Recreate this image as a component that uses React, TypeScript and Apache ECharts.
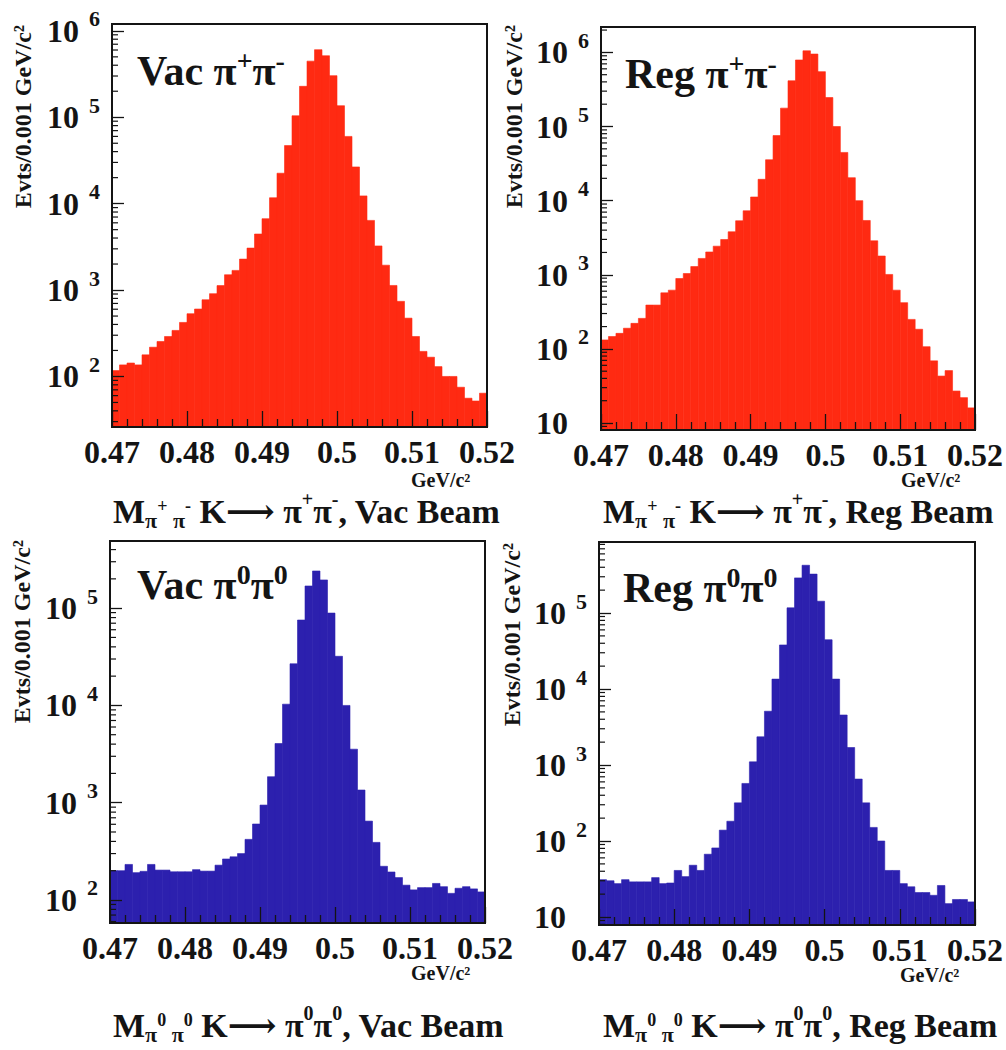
import React, { useEffect, useRef } from "react";
import * as echarts from "echarts";

// ---- data (bin counts per 0.001 GeV/c^2, 0.470 – 0.520) ----
const BIN_START = 0.47;
const BIN_WIDTH = 0.001;

const vacPipiCounts = [
  117, 136, 143, 136, 178, 218, 254, 290, 341, 422,
  532, 603, 772, 908, 1126, 1503, 1688, 2280, 3060, 4450,
  6700, 11700, 22500, 47000, 104000, 228000, 446000, 605000, 515000, 303000,
  136000, 60000, 26600, 12300, 6400, 3240, 1940, 1130, 740, 473,
  290, 195, 167, 130, 100, 100, 75, 56, 52, 64,
];
const regPipiCounts = [
  132, 147, 162, 190, 221, 258, 390, 390, 570, 620,
  890, 1040, 1290, 1660, 2030, 2430, 2990, 3800, 5350, 7300,
  11200, 19400, 35600, 75500, 177000, 414000, 790000, 1050000, 950000, 550000,
  246000, 100000, 44700, 20400, 10000, 5400, 2870, 1790, 1010, 620,
  420, 250, 184, 107, 69, 43, 51, 27, 22, 16,
];
const vacPi0Counts = [
  200, 200, 232, 191, 197, 232, 203, 203, 195, 195,
  195, 205, 198, 198, 228, 264, 278, 300, 420, 604,
  946, 1850, 4060, 10300, 26800, 75500, 169000, 241000, 195000, 89000,
  32000, 10000, 3550, 1350, 647, 391, 222, 194, 170, 142,
  127, 134, 134, 148, 137, 117, 132, 137, 130, 121,
];
const regPi0Counts = [
  31, 30, 27.5, 31, 29, 29, 29, 33, 27.5, 28,
  41, 34, 48, 41, 67, 81, 139, 182, 318, 572,
  1100, 2350, 5100, 13500, 38000, 117000, 290000, 425000, 325000, 143000,
  44500, 13500, 4550, 1700, 653, 318, 151, 100, 41, 41,
  27.5, 25, 21, 21, 19.3, 26, 15, 17, 17, 15.8,
];

const xTickValues = [0.47, 0.48, 0.49, 0.5, 0.51, 0.52];
const minorMultipliers = [2, 3, 4, 5, 6, 7, 8, 9];
const decades = [0, 1, 2, 3, 4, 5, 6];
const yTitle = "Evts/0.001 GeV/c²";
const xUnit = "GeV/c²";

const SERIF = "'Liberation Serif', 'Times New Roman', 'DejaVu Serif', serif";
const INK = "#141414";
const RED = "#ff2a12";
const BLUE = "#2c20ae";

type Panel = {
  counts: number[];
  color: string;
  yMin: number;
  yMax: number;
  grid: { left: number; top: number; width: number; height: number };
  label: string;
  xTitle: string;
  yTitleAt: [number, number];
  unitAt: [number, number];
  labelAt: [number, number];
  xTitleAt: [number, number];
};

const panels: Panel[] = [
  {
    counts: vacPipiCounts, color: RED, yMin: 26, yMax: 1.2e6,
    grid: { left: 112, top: 24, width: 375, height: 403 },
    label: "{m|Vac π}{p|+}{m|π}{p|-}",
    xTitle: "{M|M}{sb|π}{ss|+}{sb| π}{ss|-}{t| K⟶ π}{sp|+}{t|π}{sp|-}{t|, Vac Beam}",
    yTitleAt: [23, 25], unitAt: [411, 480], labelAt: [137, 71], xTitleAt: [113, 511],
  },
  {
    counts: regPipiCounts, color: RED, yMin: 8.05, yMax: 2.2e6,
    grid: { left: 601, top: 27, width: 376, height: 403 },
    label: "{m|Reg π}{p|+}{m|π}{p|-}",
    xTitle: "{M|M}{sb|π}{ss|+}{sb| π}{ss|-}{t| K⟶ π}{sp|+}{t|π}{sp|-}{t|, Reg Beam}",
    yTitleAt: [514, 25], unitAt: [901, 480], labelAt: [625, 74], xTitleAt: [603, 511],
  },
  {
    counts: vacPi0Counts, color: BLUE, yMin: 58, yMax: 4.9e5,
    grid: { left: 110, top: 541, width: 375, height: 382 },
    label: "{m|Vac π}{p|0}{m|π}{p|0}",
    xTitle: "{M|M}{sb|π}{ss|0}{sb| π}{ss|0}{t| K⟶ π}{sp|0}{t|π}{sp|0}{t|, Vac Beam}",
    yTitleAt: [22, 540], unitAt: [411, 973], labelAt: [137, 585], xTitleAt: [113, 1025],
  },
  {
    counts: regPi0Counts, color: BLUE, yMin: 7.85, yMax: 8.6e5,
    grid: { left: 599, top: 542, width: 376, height: 383 },
    label: "{m|Reg π}{p|0}{m|π}{p|0}",
    xTitle: "{M|M}{sb|π}{ss|0}{sb| π}{ss|0}{t| K⟶ π}{sp|0}{t|π}{sp|0}{t|, Reg Beam}",
    yTitleAt: [512, 543], unitAt: [900, 975], labelAt: [623, 588], xTitleAt: [603, 1025],
  },
];

const bold = { fontFamily: SERIF, fontWeight: "bold" as const, color: INK };

const yLabelRich = {
  b: { ...bold, fontSize: 32, lineHeight: 46 },
  s: { ...bold, fontSize: 22, lineHeight: 22, verticalAlign: "top" as const, padding: [0, 0, 0, 10] },
  e: { ...bold, fontSize: 22, lineHeight: 22, width: 21 },
};

const panelLabelRich = {
  m: { ...bold, fontSize: 42, lineHeight: 60 },
  p: { ...bold, fontSize: 28, lineHeight: 40, verticalAlign: "top" as const, padding: [5, 0, 0, 0] },
};

const xTitleRich = {
  M: { ...bold, fontSize: 34, lineHeight: 40 },
  t: { ...bold, fontSize: 34, lineHeight: 40 },
  sb: { ...bold, fontSize: 22, lineHeight: 20, verticalAlign: "bottom" as const },
  ss: { ...bold, fontSize: 18, lineHeight: 18, verticalAlign: "middle" as const, padding: [0, 0, 10, 0] },
  sp: { ...bold, fontSize: 20, lineHeight: 18, verticalAlign: "middle" as const, padding: [0, 0, 24, 0] },
};

function yLabel(v: number): string {
  const e = Math.round(Math.log10(v));
  if (Math.abs(Math.pow(10, e) - v) > 1e-6 * v) return "";
  if (e === 1) return "{b|10}{e| }";
  return `{b|10}{s|${e}}`;
}

function xLabel(v: number): string {
  const hit = xTickValues.find((t) => Math.abs(t - v) < 1e-9);
  return hit === undefined ? "" : String(hit);
}

const tickLine = { color: INK, width: 1.3 };

function buildOption() {
  const grid = panels.map((p) => ({
    ...p.grid,
    show: true,
    backgroundColor: "transparent",
    borderColor: INK,
    borderWidth: 2,
    z: 10,
  }));
  const xAxis = panels.map((_, i) => ({
    type: "value",
    gridIndex: i,
    min: 0.47,
    max: 0.52,
    interval: 0.01,
    z: 10,
    axisLine: { show: false },
    axisTick: { show: true, inside: true, length: 16, lineStyle: tickLine },
    minorTick: { show: true, splitNumber: 5, length: 8, lineStyle: tickLine },
    splitLine: { show: false },
    minorSplitLine: { show: false },
    axisLabel: {
      margin: 13,
      fontSize: 32,
      lineHeight: 24,
      fontWeight: "bold",
      fontFamily: SERIF,
      color: INK,
      formatter: xLabel,
    },
  }));
  const yAxis = panels.map((p, i) => ({
    type: "log",
    logBase: 10,
    gridIndex: i,
    min: p.yMin,
    max: p.yMax,
    z: 10,
    axisLine: { show: false },
    axisTick: { show: true, inside: true, length: 12, lineStyle: tickLine },
    minorTick: { show: false },
    splitLine: { show: false },
    minorSplitLine: { show: false },
    axisLabel: {
      margin: 12,
      showMinLabel: false,
      showMaxLabel: false,
      formatter: yLabel,
      rich: yLabelRich,
    },
  }));
  const barSeries = panels.map((p, i) => ({
    type: "custom",
    name: "bins" + i,
    xAxisIndex: i,
    yAxisIndex: i,
    clip: true,
    silent: true,
    z: 2,
    encode: { x: [0, 1], y: 2 },
    data: p.counts.map((c, k) => [BIN_START + k * BIN_WIDTH, BIN_START + (k + 1) * BIN_WIDTH, c]),
    renderItem: (params: any, api: any) => {
      const a = api.coord([api.value(0), api.value(2)]);
      const b = api.coord([api.value(1), api.value(2)]);
      const cs = params.coordSys;
      const bottom = cs.y + cs.height;
      return {
        type: "rect",
        shape: { x: a[0], y: a[1], width: b[0] - a[0], height: bottom - a[1] },
        style: { fill: p.color, stroke: p.color, lineWidth: 0.6 },
      };
    },
  }));
  // log-style minor ticks (2..9 x 10^n) on each y axis, placed by the axis scale
  const minorSeries = panels.map((p, i) => {
    const vals: number[][] = [];
    decades.forEach((d) =>
      minorMultipliers.forEach((m) => {
        const v = m * Math.pow(10, d);
        if (v > p.yMin && v < p.yMax) vals.push([BIN_START, v]);
      })
    );
    return {
      type: "custom",
      name: "minor" + i,
      xAxisIndex: i,
      yAxisIndex: i,
      silent: true,
      z: 12,
      encode: { x: 0, y: 1 },
      data: vals,
      renderItem: (params: any, api: any) => {
        const pt = api.coord([api.value(0), api.value(1)]);
        return {
          type: "line",
          shape: { x1: pt[0], y1: pt[1], x2: pt[0] + 6, y2: pt[1] },
          style: { stroke: INK, lineWidth: 1.2 },
        };
      },
    };
  });
  const graphic: any[] = [];
  panels.forEach((p) => {
    graphic.push({
      type: "text",
      x: p.yTitleAt[0],
      y: p.yTitleAt[1],
      rotation: Math.PI / 2,
      z: 20,
      style: { text: yTitle, align: "right", verticalAlign: "middle", font: `bold 24px ${SERIF}`, fill: INK },
    });
    graphic.push({
      type: "text",
      x: p.labelAt[0],
      y: p.labelAt[1],
      z: 20,
      style: { text: p.label, align: "left", verticalAlign: "middle", rich: panelLabelRich, fill: INK },
    });
    graphic.push({
      type: "text",
      x: p.unitAt[0],
      y: p.unitAt[1],
      z: 20,
      style: {
        text: xUnit,
        align: "left",
        verticalAlign: "middle",
        font: `bold 20px ${SERIF}`,
        lineHeight: 18,
        fill: INK,
      },
    });
    graphic.push({
      type: "text",
      x: p.xTitleAt[0],
      y: p.xTitleAt[1],
      z: 20,
      style: { text: p.xTitle, align: "left", verticalAlign: "middle", rich: xTitleRich, fill: INK },
    });
  });
  return {
    animation: false,
    backgroundColor: "#ffffff",
    grid,
    xAxis,
    yAxis,
    series: [...barSeries, ...minorSeries],
    graphic,
  };
}

export default function App() {
  const ref = useRef<HTMLDivElement>(null);
  useEffect(() => {
    if (!ref.current) return;
    const chart = echarts.init(ref.current, undefined, { renderer: "svg" });
    chart.setOption(buildOption() as any);
    return () => chart.dispose();
  }, []);
  return (
    <div
      ref={ref}
      style={{ position: "absolute", left: 0, top: 0, width: 1006, height: 1050, background: "#fff" }}
    />
  );
}
